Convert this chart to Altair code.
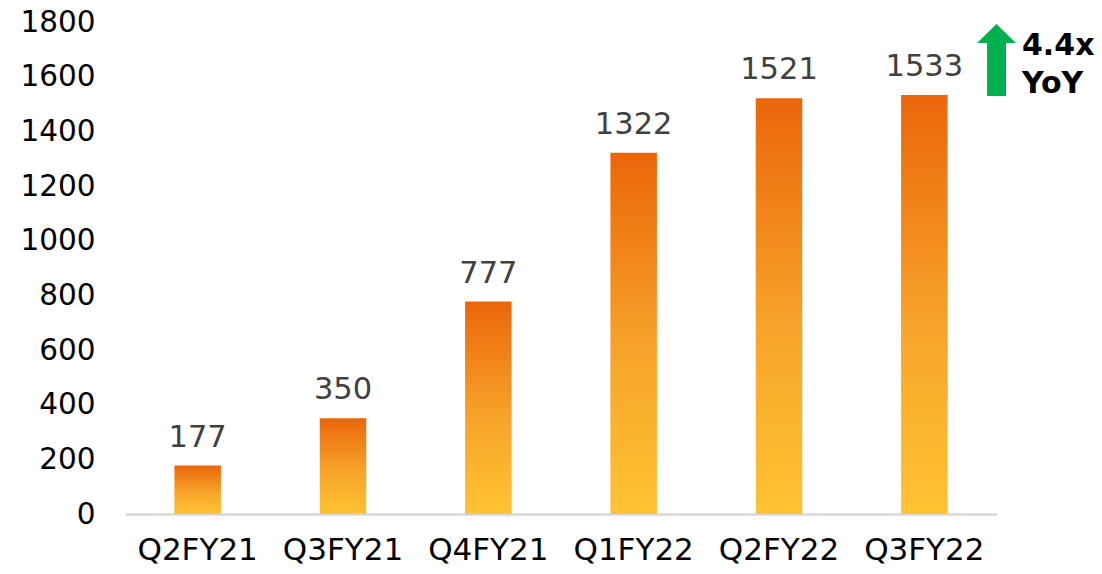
import altair as alt
import pandas as pd

# Quarterly values
quarters = ["Q2FY21", "Q3FY21", "Q4FY21", "Q1FY22", "Q2FY22", "Q3FY22"]
values = [177, 350, 777, 1322, 1521, 1533]

df = pd.DataFrame({"quarter": quarters, "value": values})

FONT = "DejaVu Sans"
PLOT_W, PLOT_H = 872, 492

x_enc = alt.X(
    "quarter:N",
    sort=quarters,
    scale=alt.Scale(paddingInner=0.68, paddingOuter=0.34),
    axis=alt.Axis(
        title=None, labelAngle=0, labelFont=FONT, labelFontSize=31,
        labelColor="#000000", labelPadding=21, ticks=False,
        domainColor="#D9D9D9", domainWidth=2.5,
    ),
)
y_enc = alt.Y(
    "value:Q",
    scale=alt.Scale(domain=[0, 1800], nice=False),
    axis=alt.Axis(
        title=None, values=list(range(0, 1801, 200)), format="d", grid=False,
        domain=False, ticks=False, labelFont=FONT, labelFontSize=29.5,
        labelColor="#000000", labelPadding=30,
    ),
)

gradient = alt.Gradient(
    gradient="linear",
    x1=0, y1=1, x2=0, y2=0,
    stops=[
        alt.GradientStop(color="#FFC333", offset=0),
        alt.GradientStop(color="#F7A42A", offset=0.45),
        alt.GradientStop(color="#EB660B", offset=1),
    ],
)

base = alt.Chart(df).encode(x=x_enc, y=y_enc)

bars = base.mark_bar(color=gradient)
labels = base.mark_text(
    font=FONT, fontSize=30.5, color="#404040", baseline="bottom", dy=-13
).encode(text="value:Q")

# Growth callout: green arrow plus bold text
arrow_path = "M0,-1 L0.54,-0.47 L0.264,-0.47 L0.264,1 L-0.264,1 L-0.264,-0.47 L-0.54,-0.47 Z"
arrow = alt.Chart(pd.DataFrame({"a": [0]})).mark_point(
    shape=arrow_path, size=5184, filled=True, color="#00B050", opacity=1, strokeWidth=0
).encode(x=alt.value(871.5), y=alt.value(38))
note1 = alt.Chart(pd.DataFrame({"t": ["4.4x"]})).mark_text(
    font=FONT, fontSize=30, fontWeight="bold", color="#000000",
    align="left", baseline="alphabetic"
).encode(text="t:N", x=alt.value(897), y=alt.value(33))
note2 = alt.Chart(pd.DataFrame({"t": ["YoY"]})).mark_text(
    font=FONT, fontSize=30, fontWeight="bold", color="#000000",
    align="left", baseline="alphabetic"
).encode(text="t:N", x=alt.value(897), y=alt.value(71))

chart = (
    alt.layer(bars, labels, arrow, note1, note2)
    .properties(
        width=PLOT_W, height=PLOT_H,
        autosize=alt.AutoSizeParams(type="none"),
        padding={"left": 125, "top": 22, "right": 105, "bottom": 60},
        background="#FFFFFF",
    )
    .configure_view(stroke=None)
)

chart.save("out.html", embed_options={"renderer": "svg", "actions": False})
